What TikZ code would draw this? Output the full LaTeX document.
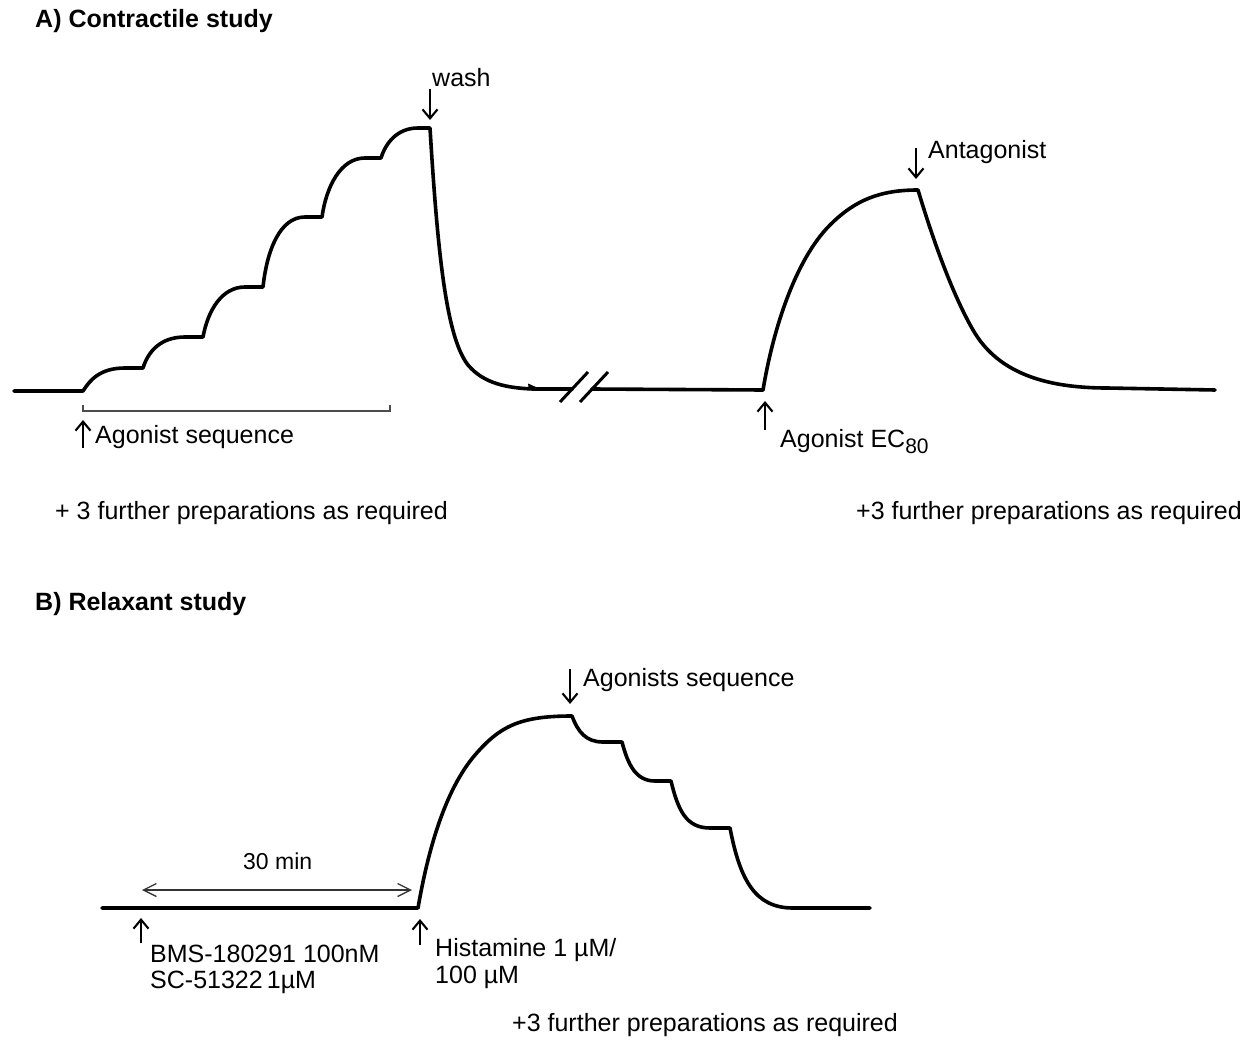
\documentclass[tikz,border=0pt]{standalone}
\usepackage{fontspec}
\setmainfont{Liberation Sans}
\usetikzlibrary{arrows.meta}
\begin{document}
\begin{tikzpicture}[x=1pt,y=-1pt,
  trace/.style={line width=3.6pt, line join=round, line cap=round},
  ann/.style={line width=2.1pt, -{Straight Barb[length=9pt,width=15pt,line width=2.1pt]}},
  span/.style={line width=1.3pt, draw=black!80, {Straight Barb[length=13pt,width=13pt]}-{Straight Barb[length=13pt,width=13pt]}},
  brk/.style={line width=3pt},
  lbl/.style={font=\fontsize{25}{30}\selectfont, inner sep=0pt, anchor=base west},
  ttl/.style={font=\fontsize{25}{30}\selectfont\bfseries, inner sep=0pt, anchor=base west},
  small/.style={font=\fontsize{23}{26}\selectfont, inner sep=0pt, anchor=base west}]
\useasboundingbox (0,0) rectangle (1252,1040);

% ---------- titles
\node[ttl] (tA) at (35,28) {A) Contractile study};
\node[ttl] (tB) at (35,610) {B) Relaxant study};

% ---------- A: cumulative agonist sequence and wash
\draw[trace] (14,391) -- (83,391)
  .. controls (90,380) and (100,368) .. (125,368) -- (143,368)
  .. controls (148,352) and (160,337) .. (185,337) -- (203,337)
  .. controls (208,310) and (222,287) .. (245,287) -- (263,287)
  .. controls (267,250) and (280,217) .. (305,217) -- (322,217)
  .. controls (326,188) and (340,158) .. (365,158) -- (381,158)
  .. controls (386,142) and (398,128) .. (418,128) -- (430,128)
  .. controls (438,260) and (447,338) .. (468,365)
  .. controls (484,384) and (508,388) .. (533,389);
\fill (528,383.5) -- (537,387.5) -- (529,390.5) -- cycle;

% break
\draw[trace] (533,389) -- (572,389);
\draw[trace] (592,389) -- (763,390);
\draw[brk] (560,402) -- (588,372);
\draw[brk] (580,402) -- (608,372);

% second response
\draw[trace] (763,390) .. controls (773,330) and (795,260) .. (830,225)
  .. controls (855,200) and (880,190) .. (918,190)
  .. controls (930,230) and (950,290) .. (973,330)
  .. controls (996,370) and (1040,388) .. (1107,388) -- (1215,390);

% bracket under agonist sequence
\draw[line width=1.6pt, draw=black!70] (83,405) -- (83,411) -- (390,411) -- (390,405);

% annotations A
\coordinate (agS) at (83,448);   \coordinate (agE) at (83,420);
\draw[ann] (agS) -- (agE);
\node[lbl] (agseq) at (95,443) {Agonist sequence};

\coordinate (waS) at (430,89);   \coordinate (waE) at (430,120);
\draw[ann] (waS) -- (waE);
\node[lbl] (wash) at (432,87) {wash};

\coordinate (anS) at (916,148);  \coordinate (anE) at (916,179);
\draw[ann] (anS) -- (anE);
\node[lbl] (antag) at (928,159) {Antagonist};

\coordinate (ecS) at (765,430);  \coordinate (ecE) at (765,401);
\draw[ann] (ecS) -- (ecE);
\node[lbl] (ec80) at (780,447) {Agonist EC\raisebox{-6pt}{\fontsize{21}{21}\selectfont 80}};

\node[lbl] (prepA1) at (55,519) {+ 3 further preparations as required};
\node[lbl] (prepA2) at (856,519) {+3 further preparations as required};

% ---------- B: relaxant study
\draw[trace] (102,908) -- (418,908)
  .. controls (428,850) and (445,790) .. (475,755)
  .. controls (500,726) and (520,716) .. (572,716)
  .. controls (578,732) and (586,742) .. (603,742) -- (622,742)
  .. controls (628,765) and (636,781) .. (655,781) -- (671,781)
  .. controls (678,810) and (686,828) .. (710,828) -- (730,828)
  .. controls (740,880) and (755,908) .. (793,908) -- (870,908);

\coordinate (tmS) at (142,890);  \coordinate (tmE) at (412,890);
\draw[span] (tmS) -- (tmE);
\node[small] (thirty) at (243,869) {30 min};

\coordinate (bmS) at (141,943);  \coordinate (bmE) at (141,918);
\draw[ann] (bmS) -- (bmE);
\node[lbl] (bms) at (150,962) {BMS-180291 100nM};
\node[lbl] (sc) at (150,988) {SC-51322\,1µM};

\coordinate (hiS) at (420,945);  \coordinate (hiE) at (420,919);
\draw[ann] (hiS) -- (hiE);
\node[lbl] (hist) at (435,956) {Histamine 1 µM/};
\node[lbl] (hist2) at (435,983) {100 µM};

\coordinate (asS) at (570,669);  \coordinate (asE) at (570,704);
\draw[ann] (asS) -- (asE);
\node[lbl] (agsB) at (583,686) {Agonists sequence};

\node[lbl] (prepB) at (512,1031) {+3 further preparations as required};
\end{tikzpicture}
\end{document}
